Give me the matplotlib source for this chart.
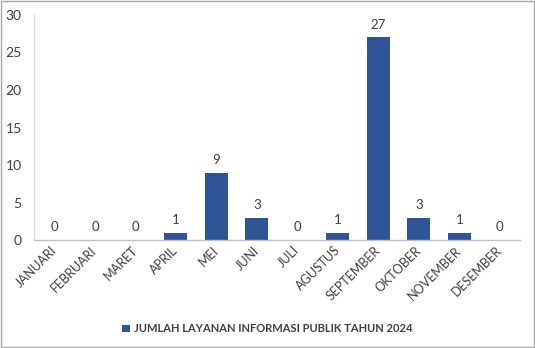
import matplotlib.pyplot as plt
from matplotlib.patches import Rectangle

months = ['JANUARI', 'FEBRUARI', 'MARET', 'APRIL', 'MEI', 'JUNI', 'JULI',
          'AGUSTUS', 'SEPTEMBER', 'OKTOBER', 'NOVEMBER', 'DESEMBER']
counts = [0, 0, 0, 1, 9, 3, 0, 1, 27, 3, 1, 0]
series_name = 'JUMLAH LAYANAN INFORMASI PUBLIK TAHUN 2024'

bar_color = '#2F5597'
text_color = '#404040'
plt.rcParams['font.family'] = ['Lato', 'DejaVu Sans']

fig = plt.figure(figsize=(5.35, 3.48), dpi=100)
ax = fig.add_axes([0.064, 0.31, 0.908, 0.647])

x = range(len(months))
bars = ax.bar(x, counts, width=0.57, color=bar_color, label=series_name)
for b, v in zip(bars, counts):
    ax.annotate(str(v), (b.get_x() + b.get_width() / 2, v),
                xytext=(0, 5), textcoords='offset points',
                ha='center', va='bottom', fontsize=9.5, color=text_color)

ax.set_xlim(-0.5, len(months) - 0.5)
ax.set_ylim(0, 30)
ax.set_yticks([0, 5, 10, 15, 20, 25, 30])
ax.set_xticks(list(x))
ax.set_xticklabels(months, rotation=45, ha='right', va='center',
                   rotation_mode='anchor', fontsize=9, color=text_color)
ax.tick_params(axis='x', length=0, pad=6)
ax.tick_params(axis='y', length=0, labelsize=10, colors=text_color, pad=9)

for s in ['top', 'right']:
    ax.spines[s].set_visible(False)
ax.spines['left'].set_color('#D9D9D9')
ax.spines['bottom'].set_color('#BFBFBF')
ax.spines['left'].set_linewidth(1.0)
ax.spines['bottom'].set_linewidth(1.0)

leg = fig.legend(loc='center', bbox_to_anchor=(0.5, 0.055), frameon=False,
                 handlelength=0.7, handleheight=0.7, handletextpad=0.4,
                 prop={'weight': 'bold', 'size': 8})
for t in leg.get_texts():
    t.set_color(text_color)

fig.patches.append(Rectangle((0.002, 0.003), 0.996, 0.994,
                             transform=fig.transFigure, fill=False,
                             edgecolor='#A6A6A6', linewidth=1.0))

fig.savefig('out.png', dpi=100)
